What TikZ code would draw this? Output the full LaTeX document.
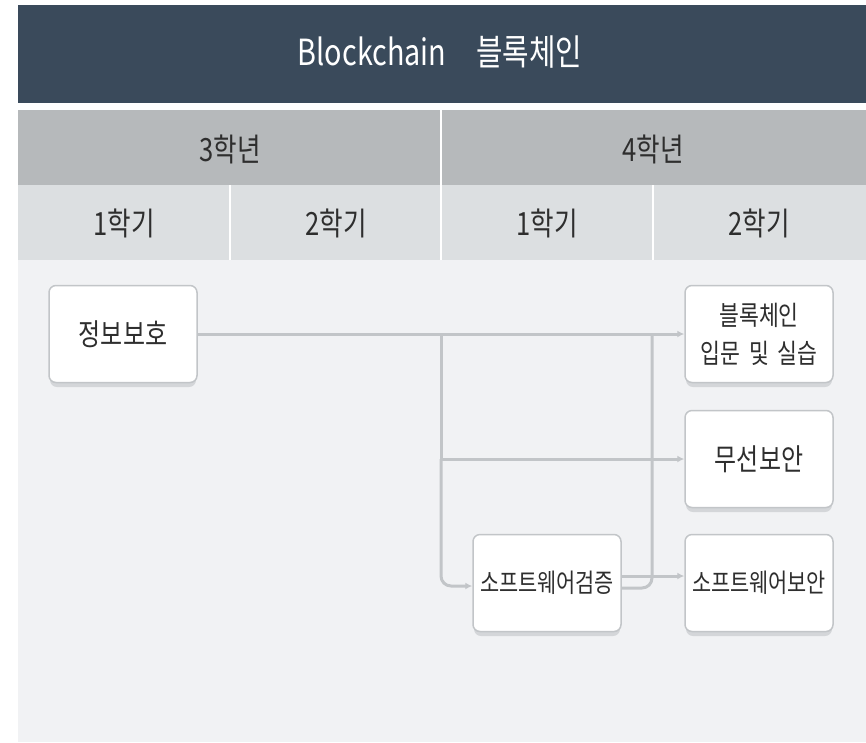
\documentclass[tikz,border=0pt]{standalone}
\usepackage{fontspec}
\setmainfont[FakeStretch=0.8]{Noto Sans CJK KR}
\usetikzlibrary{arrows.meta}
\definecolor{hdr}{HTML}{3A4A5B}
\definecolor{yr}{HTML}{B6B9BB}
\definecolor{sem}{HTML}{DCDFE1}
\definecolor{bodyc}{HTML}{F1F2F4}
\definecolor{ln}{HTML}{C2C5C8}
\definecolor{txt}{HTML}{2E2E2E}
\tikzset{
  course/.style={draw=ln, line width=1.5pt, fill=white, rounded corners=7pt,
    minimum width=148pt, minimum height=97pt, text width=144pt, align=center,
    font=\fontsize{26}{38}\selectfont, text=txt, inner sep=1pt},
  big/.style={font=\fontsize{30}{36}\selectfont},
  shadowbox/.style={fill=ln!70, rounded corners=7pt},
  conn/.style={draw=ln, line width=3pt, rounded corners=10pt},
  arr/.style={conn, -{Latex[length=7pt,width=7pt]}},
  lbl/.style={font=\fontsize{32}{36}\selectfont, text=txt}
}
\begin{document}
\begin{tikzpicture}[x=1pt,y=-1pt]
\useasboundingbox (0,0) rectangle (866,742);
\fill[white] (0,0) rectangle (866,742);
% header
\fill[hdr] (18,5) rectangle (866,103);
\node[font=\fontsize{36}{40}\selectfont, text=white] (title) at (440,52) {Blockchain\hspace{30pt}블록체인};
% year row
\fill[yr] (18,110) rectangle (866,185);
\fill[sem] (18,185) rectangle (866,260);
\fill[bodyc] (18,260) rectangle (866,742);
\draw[white, line width=2pt] (441,107) -- (441,260);
\draw[white, line width=2pt] (230,185) -- (230,260);
\draw[white, line width=2pt] (653,185) -- (653,260);
\node[lbl] (y3) at (230,149) {3학년};
\node[lbl] (y4) at (653,149) {4학년};
\node[lbl] (s1) at (124,223) {1학기};
\node[lbl] (s2) at (336,223) {2학기};
\node[lbl] (s3) at (547,223) {1학기};
\node[lbl] (s4) at (759,223) {2학기};
% shadows
\foreach \cx/\cy in {123/334, 759/334, 759/459, 547/583, 759/583}
  \fill[shadowbox] (\cx-73,\cy-46) rectangle (\cx+73,\cy+53);
% courses
\node[course, big] (a) at (123,334) {정보보호};
\node[course, font=\fontsize{27}{38}\selectfont] (b) at (759,334) {블록체인\\입문 및 실습};
\node[course, big] (c) at (759,459) {무선보안};
\node[course] (d) at (547,583) {소프트웨어검증};
\node[course] (e) at (759,583) {소프트웨어보안};
% connectors
\coordinate (j1) at (441,334);
\coordinate (j2) at (441,459);
\coordinate (j3) at (652,334);
\draw[arr] (a.east) -- (b.west);
\draw[conn] (j1) -- (j2);
\draw[arr] (j2) -- (c.west);
\draw[arr] (j2) |- ([yshift=-3pt]d.west);
\draw[conn] ([yshift=-5pt]d.east) -| (j3);
\draw[arr] ([yshift=7pt]d.east) -- ([yshift=7pt]e.west);
\end{tikzpicture}
\end{document}
